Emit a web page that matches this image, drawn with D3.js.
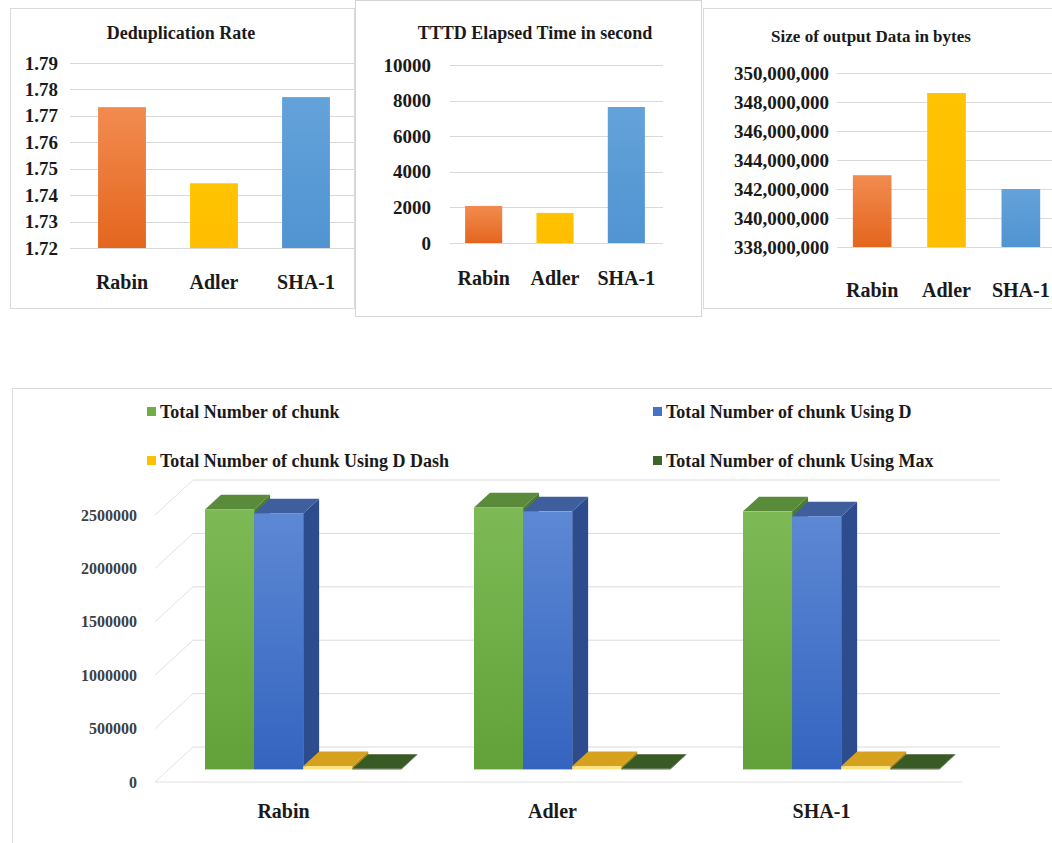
<!DOCTYPE html>
<html>
<head>
<meta charset="utf-8">
<script src="https://cdn.jsdelivr.net/npm/d3@7"></script>
</head>
<body style="margin:0;background:#fff">
<div id="chart"></div>
<script>
// categories and values
var categories = ["Rabin", "Adler", "SHA-1"];
var dedupRate = [1.7733, 1.7445, 1.7771];
var elapsedTime = [2080, 1690, 7640];
var outputSize = [342950000, 348620000, 342000000];

var dedupTicks = [1.72, 1.73, 1.74, 1.75, 1.76, 1.77, 1.78, 1.79];
var timeTicks = [0, 2000, 4000, 6000, 8000, 10000];
var sizeTicks = [338000000, 340000000, 342000000, 344000000, 346000000, 348000000, 350000000];

var chunkSeries = ["Total Number of chunk", "Total Number of chunk Using D",
                   "Total Number of chunk Using D Dash", "Total Number of chunk Using Max"];
var chunkTotal = [2434000, 2453000, 2416000];
var chunkUsingD = [2397000, 2416000, 2369000];
var chunkUsingDDash = [30000, 30000, 30000];
var chunkUsingMax = [5000, 5000, 5000];
var chunkTicks = [0, 500000, 1000000, 1500000, 2000000, 2500000];

var svg = d3.select("#chart").append("svg")
    .attr("width", 1052)
    .attr("height", 843)
    .attr("font-family", "Liberation Serif")
    .style("display", "block");

// Function to give a text selection the chart's serif bold font
function serif(sel, size, color) {
    return sel.attr("font-family", "Liberation Serif")
        .attr("font-weight", "bold")
        .attr("font-size", size)
        .attr("fill", color || "#1a1a1a");
}

var defs = svg.append("defs");

// vertical gradient helper
function addGradient(id, top, bottom) {
    var g = defs.append("linearGradient").attr("id", id)
        .attr("x1", 0).attr("y1", 0).attr("x2", 0).attr("y2", 1);
    g.append("stop").attr("offset", "0%").attr("stop-color", top);
    g.append("stop").attr("offset", "100%").attr("stop-color", bottom);
}
addGradient("gOrange", "#F28B50", "#E4661D");
addGradient("gYellow", "#FFC300", "#FFBE00");
addGradient("gBlue", "#64A2DA", "#5094D2");
addGradient("gGreen", "#7DBA55", "#62A13A");
addGradient("gBlue3d", "#5D88D4", "#3464BF");

var barFills = ["url(#gOrange)", "url(#gYellow)", "url(#gBlue)"];

// panel boxes
svg.append("rect").attr("x", 10.5).attr("y", 8.5).attr("width", 344).attr("height", 300)
    .attr("fill", "none").attr("stroke", "#DADADA");
svg.append("rect").attr("x", 703.5).attr("y", 8.5).attr("width", 360).attr("height", 300)
    .attr("fill", "none").attr("stroke", "#DADADA");
svg.append("rect").attr("x", 355.5).attr("y", 0.5).attr("width", 346).attr("height", 316)
    .attr("fill", "#fff").attr("stroke", "#D5D5D5");
svg.append("rect").attr("x", 12.5).attr("y", 388.5).attr("width", 1060).attr("height", 480)
    .attr("fill", "none").attr("stroke", "#DADADA");

// Function to draw one small 2D bar panel
function drawPanel(opt) {
    var x = d3.scaleBand().domain(categories).range(opt.xRange)
        .paddingInner(0.48).paddingOuter(0.24);
    var y = d3.scaleLinear().domain(opt.domain).range(opt.yRange);
    var g = svg.append("g");

    serif(g.append("text"), opt.titleSize)
        .attr("x", opt.titleX).attr("y", opt.titleY)
        .attr("text-anchor", "middle")
        .text(opt.title);

    g.selectAll(".grid").data(opt.ticks).enter().append("line")
        .attr("x1", opt.gridX[0]).attr("x2", opt.gridX[1])
        .attr("y1", function(d) { return Math.round(y(d)) + 0.5; })
        .attr("y2", function(d) { return Math.round(y(d)) + 0.5; })
        .attr("stroke", "#D9D9D9");

    var yAxis = d3.axisLeft(y).tickValues(opt.ticks).tickFormat(opt.format).tickSize(0).tickPadding(0);
    var ax = g.append("g").attr("transform", "translate(" + opt.labelX + ",0)").call(yAxis);
    ax.attr("font-family", null).attr("font-size", null);
    ax.select(".domain").remove();
    serif(ax.selectAll("text"), opt.tickSize);

    g.selectAll(".bar").data(opt.values).enter().append("rect")
        .attr("x", function(d, i) { return x(categories[i]); })
        .attr("y", function(d) { return y(d); })
        .attr("width", x.bandwidth())
        .attr("height", function(d) { return y(opt.domain[0]) - y(d); })
        .attr("fill", function(d, i) { return barFills[i]; });

    serif(g.selectAll(".cat").data(categories).enter().append("text"), 20)
        .attr("x", function(d) { return x(d) + x.bandwidth() / 2; })
        .attr("y", opt.catY)
        .attr("text-anchor", "middle")
        .text(function(d) { return d; });
}

drawPanel({
    title: "Deduplication Rate", titleX: 181, titleY: 39, titleSize: 18,
    values: dedupRate, domain: [1.72, 1.79], ticks: dedupTicks,
    format: d3.format(".2f"), yRange: [248, 63], xRange: [76, 352],
    gridX: [70, 354], labelX: 58, tickSize: 19, catY: 289
});
drawPanel({
    title: "TTTD Elapsed Time in second", titleX: 535, titleY: 39, titleSize: 18,
    values: elapsedTime, domain: [0, 10000], ticks: timeTicks,
    format: d3.format("d"), yRange: [243, 65], xRange: [448, 662],
    gridX: [450, 663], labelX: 431, tickSize: 19, catY: 285
});
drawPanel({
    title: "Size of output Data in bytes", titleX: 871, titleY: 42, titleSize: 17,
    values: outputSize, domain: [338000000, 350000000], ticks: sizeTicks,
    format: d3.format(","), yRange: [247, 73], xRange: [835, 1058],
    gridX: [837, 1052], labelX: 829, tickSize: 19, catY: 297
});

// ---- bottom 3D clustered column chart ----
var chunkValues = [chunkTotal, chunkUsingD, chunkUsingDDash, chunkUsingMax];
var legendColors = ["#70AD47", "#4472C4", "#FFC000", "#3F6428"];
var faceColors = [
    { front: "url(#gGreen)", top: "#5A8B3B", side: "#4C7A31" },
    { front: "url(#gBlue3d)", top: "#3E5E9E", side: "#2C4C8D" },
    { front: "#FFE27A", top: "#D6A21E", side: "#B88A14" },
    { front: "#2E4A1C", top: "#385A24", side: "#2A4418" }
];

var depthX = 38, depthY = -35;
var bar0 = 0.36, bar1 = 0.78;

var x0 = d3.scaleBand().domain(categories).range([155, 962]);
var x1 = d3.scaleBand().domain(chunkSeries).range([0, x0.bandwidth()])
    .paddingInner(0).paddingOuter(0.74);
var yc = d3.scaleLinear().domain([0, 2500000]).range([782, 515]);

var g3 = svg.append("g");

// back wall gridlines
g3.selectAll(".wall").data(chunkTicks).enter().append("line")
    .attr("x1", 155 + depthX).attr("x2", 962 + depthX)
    .attr("y1", function(d) { return yc(d) + depthY; })
    .attr("y2", function(d) { return yc(d) + depthY; })
    .attr("stroke", "#DCDCDC");
// side wall diagonals
g3.selectAll(".side").data(chunkTicks).enter().append("line")
    .attr("x1", 155).attr("x2", 155 + depthX)
    .attr("y1", function(d) { return yc(d); })
    .attr("y2", function(d) { return yc(d) + depthY; })
    .attr("stroke", "#E2E2E2");
// floor front edge
g3.append("line").attr("x1", 155).attr("x2", 962)
    .attr("y1", yc(0)).attr("y2", yc(0)).attr("stroke", "#E2E2E2");

// y labels
serif(g3.selectAll(".ylab").data(chunkTicks).enter().append("text"), 16, "#404040")
    .attr("x", 137).attr("y", function(d) { return yc(d); })
    .attr("dy", "0.35em")
    .attr("text-anchor", "end")
    .text(function(d) { return d; });

// Function to draw one 3D box
function drawBox(cat, si, v) {
    var xl = x0(cat) + x1(chunkSeries[si]);
    var xr = xl + x1.bandwidth();
    var fx = bar0 * depthX, fy = bar0 * depthY;
    var bx = bar1 * depthX, by = bar1 * depthY;
    var yTop = yc(v), yBot = yc(0);
    var c = faceColors[si];
    // side face
    g3.append("polygon")
        .attr("points", [[xr + fx, yTop + fy], [xr + bx, yTop + by], [xr + bx, yBot + by], [xr + fx, yBot + fy]].join(" "))
        .attr("fill", c.side);
    // top face
    g3.append("polygon")
        .attr("points", [[xl + fx, yTop + fy], [xl + bx, yTop + by], [xr + bx, yTop + by], [xr + fx, yTop + fy]].join(" "))
        .attr("fill", c.top);
    // front face
    g3.append("rect")
        .attr("x", xl + fx).attr("y", yTop + fy)
        .attr("width", xr - xl).attr("height", Math.max(0, yBot - yTop))
        .attr("fill", c.front);
}

categories.forEach(function(cat, ci) {
    chunkSeries.forEach(function(s, si) {
        drawBox(cat, si, chunkValues[si][ci]);
    });
});

// category labels
serif(g3.selectAll(".clab").data(categories).enter().append("text"), 20)
    .attr("x", function(d) { return x0(d) + x0.bandwidth() / 2 - 6; })
    .attr("y", 818)
    .attr("text-anchor", "middle")
    .text(function(d) { return d; });

// legend
var legendPos = [[147, 412], [653, 412], [147, 461], [653, 461]];
var leg = svg.selectAll(".leg").data(chunkSeries).enter().append("g")
    .attr("transform", function(d, i) { return "translate(" + legendPos[i][0] + "," + legendPos[i][1] + ")"; });
leg.append("rect").attr("x", 0).attr("y", -5).attr("width", 9).attr("height", 9)
    .attr("fill", function(d, i) { return legendColors[i]; });
serif(leg.append("text"), 18)
    .attr("x", 13).attr("y", 0).attr("dy", "0.35em")
    .text(function(d) { return d; });
</script>
</body>
</html>
